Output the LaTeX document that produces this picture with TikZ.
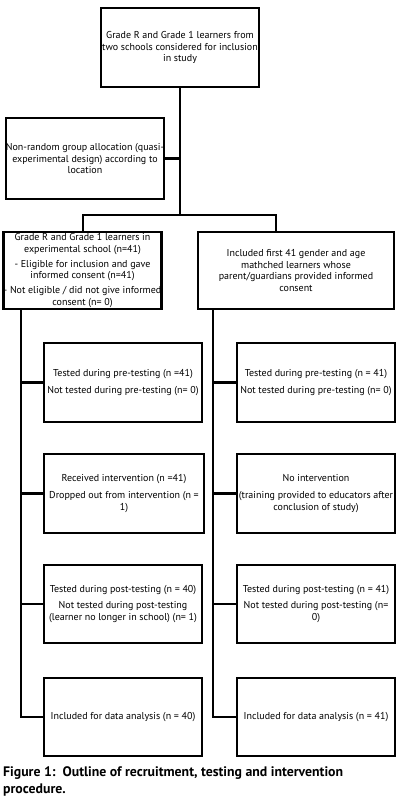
\documentclass[tikz,border=0pt]{standalone}
\usepackage{fontspec}
\setmainfont{PT Sans}
\begin{document}
\begin{tikzpicture}[x=1pt,y=-1pt,
  box/.style={draw=black,line width=2.6pt,rectangle,inner sep=0pt,outer sep=0pt,
    align=center,font=\fontsize{10}{11.8}\selectfont},
  wire/.style={line width=2.6pt,line cap=rect}]
\useasboundingbox (0,0) rectangle (407,804);
% boxes
\node[box,minimum width=158pt,minimum height=79pt] (top) at (180,47.5)
  {Grade R and Grade 1 learners from\\two schools considered for inclusion\\in study};
\node[box,minimum width=158pt,minimum height=81pt] (alloc) at (85,158.5)
  {Non-random group allocation (quasi-\\experimental design) according to\\location};
\node[box,minimum width=157pt,minimum height=77pt] (grpL) at (82.5,270.5)
  {Grade R and Grade 1 learners in\\experimental school (n=41)\\[3pt]
   - Eligible for inclusion and gave\\informed consent (n=41)\\[3pt]
   - Not eligible / did not give informed\\consent (n= 0)};
\node[box,minimum width=196pt,minimum height=77pt] (grpR) at (296,270.5)
  {Included first 41 gender and age\\mathched learners whose\\parent/guardians provided informed\\consent};
\node[box,minimum width=158pt,minimum height=79pt] (preL) at (123,382.5)
  {Tested during pre-testing (n =41)\\[4.5pt]Not tested during pre-testing (n= 0)};
\node[box,minimum width=158pt,minimum height=79pt] (preR) at (316,382.5)
  {Tested during pre-testing (n = 41)\\[4.5pt]Not tested during pre-testing (n= 0)};
\node[box,minimum width=160pt,minimum height=79pt] (intL) at (124,493.5)
  {Received intervention (n =41)\\[4.5pt]Dropped out from intervention (n =\\1)};
\node[box,minimum width=158pt,minimum height=79pt] (intR) at (316,493.5)
  {No intervention\\[4.5pt](training provided to educators after\\conclusion of study)};
\node[box,minimum width=158pt,minimum height=78pt] (postL) at (123,604)
  {Tested during post-testing (n = 40)\\[4.5pt]Not tested during post-testing\\(learner no longer in school) (n= 1)};
\node[box,minimum width=158pt,minimum height=78pt] (postR) at (316,604)
  {Tested during post-testing (n = 41)\\[4.5pt]Not tested during post-testing (n=\\0)};
\node[box,minimum width=158pt,minimum height=78pt] (dataL) at (123,717)
  {Included for data analysis (n = 40)};
\node[box,minimum width=158pt,minimum height=78pt] (dataR) at (316,717)
  {Included for data analysis (n = 41)};
% coordinates
\coordinate (split) at (180,215);
\coordinate (dropL) at (83,215);
\coordinate (dropR) at (276,215);
\coordinate (spL) at (21,309);
\coordinate (spR) at (213,309);
% connectors
\draw[wire] (top.south) -- (split);
\draw[wire] (alloc.east) -- (alloc.east -| split);
\draw[wire] (grpL.north -| dropL) -- (dropL) -- (dropR) -- (grpR.north -| dropR);
\draw[wire,line cap=butt] (grpL.south -| spL) -- (spL |- dataL.west) -- (dataL.west);
\draw[wire] (spL |- preL.west) -- (preL.west);
\draw[wire] (spL |- intL.west) -- (intL.west);
\draw[wire] (spL |- postL.west) -- (postL.west);
\draw[wire,line cap=butt] (grpR.south -| spR) -- (spR |- dataR.west) -- (dataR.west);
\draw[wire] (spR |- preR.west) -- (preR.west);
\draw[wire] (spR |- intR.west) -- (intR.west);
\draw[wire] (spR |- postR.west) -- (postR.west);
% caption
\node[anchor=north west,inner sep=0pt,align=left,font=\fontsize{13.8}{17}\selectfont\bfseries] (cap) at (3,766)
  {Figure 1:\ \ Outline of recruitment, testing and intervention\\procedure.};
\end{tikzpicture}
\end{document}
